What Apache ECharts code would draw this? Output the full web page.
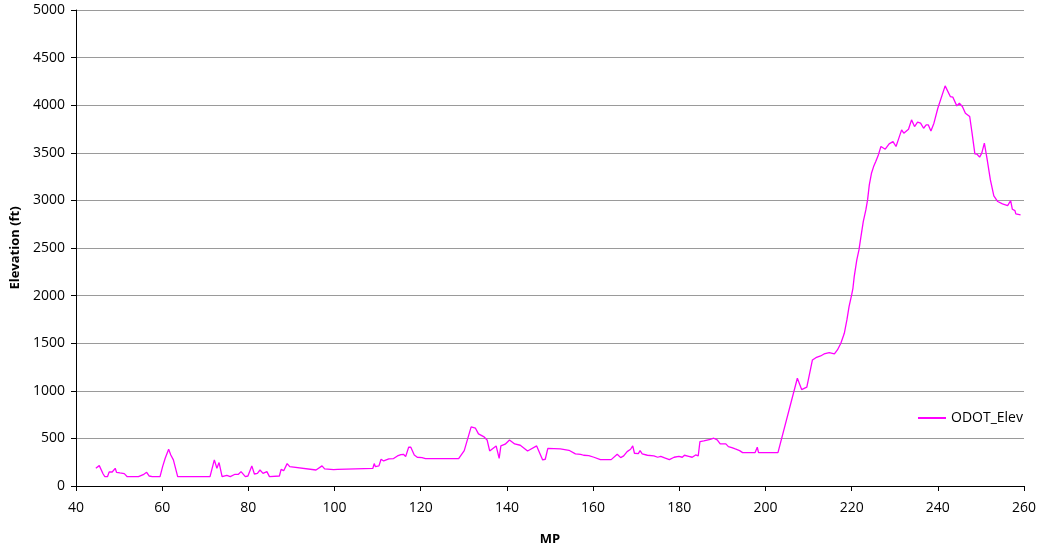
<!DOCTYPE html>
<html>
<head>
<meta charset="utf-8">
<script src="https://cdn.jsdelivr.net/npm/echarts@6/dist/echarts.min.js"></script>
<style>
html,body{margin:0;padding:0;background:#fff;}
#c{width:1042px;height:552px;}
</style>
</head>
<body>
<div id="c"></div>
<script>
var seriesName = 'ODOT_Elev';
var xTicks = [40, 60, 80, 100, 120, 140, 160, 180, 200, 220, 240, 260];
var yTicks = [0, 500, 1000, 1500, 2000, 2500, 3000, 3500, 4000, 4500, 5000];
var mp = [44.6,45.4,45.8,46.3,46.7,47.3,47.7,48.4,48.8,49.1,49.4,50.2,51.2,51.9,54.5,55.6,56.4,57.0,57.4,57.7,
59.5,60.1,60.7,61.1,61.5,62.0,62.6,63.6,71.1,72.1,72.7,73.2,73.9,75.0,75.8,76.9,77.7,78.3,79.3,79.9,
80.8,81.4,82.1,82.7,83.4,84.3,84.9,87.2,87.6,88.2,89.0,89.6,95.7,97.1,97.7,99.8,100.2,100.7,108.9,109.2,
109.5,110.3,110.8,111.4,112.6,113.7,114.6,115.4,116.0,116.5,117.2,117.7,118.5,119.2,120.3,121.1,128.8,130.1,131.7,132.7,
133.4,134.6,135.4,136.0,137.5,138.2,138.6,139.6,140.6,141.8,143.1,144.8,146.9,148.3,148.9,149.5,152.4,154.4,155.9,157.1,
157.8,159.0,160.2,161.7,164.2,165.6,166.4,167.1,167.9,168.7,169.2,169.6,170.5,170.9,171.4,172.6,174.1,174.5,175.0,175.7,
176.6,177.7,178.8,179.9,180.7,181.2,182.2,183.0,183.8,184.2,184.4,184.8,185.7,187.2,188.0,188.8,189.5,190.1,190.8,191.0,
191.4,192.2,193.0,193.4,194.0,194.7,197.6,198.1,198.4,202.9,207.4,208.4,209.6,210.9,211.7,212.8,213.6,214.8,216.0,216.7,
217.5,218.3,218.9,219.4,220.0,220.3,220.6,221.2,221.7,222.1,222.7,223.3,223.7,224.1,224.6,225.1,225.6,226.2,226.8,227.8,
228.7,229.6,230.3,230.9,231.6,232.1,233.2,233.9,234.6,235.3,236.0,236.3,236.7,237.3,237.8,238.4,239.1,240.0,240.4,241.7,
242.1,242.9,243.5,244.4,245.0,245.7,246.4,247.4,247.9,248.6,249.1,249.7,250.2,250.8,251.4,252.2,253.0,253.9,255.0,256.2,
256.9,257.3,257.9,258.1,259.2];
var elev = [186,214,203,126,98,98,147,147,137,186,144,137,130,98,98,119,144,105,119,98,
98,203,291,302,386,326,274,98,98,274,186,246,98,112,98,123,123,151,98,105,
211,126,133,168,133,151,98,105,175,161,235,203,168,211,180,172,186,175,186,235,
203,211,281,263,284,288,316,330,333,309,407,407,326,302,298,288,288,372,621,607,
547,519,484,368,421,291,421,439,484,442,428,368,421,274,281,396,389,375,337,333,
323,319,302,277,277,333,298,316,361,386,421,344,340,372,337,323,316,337,302,312,
295,277,302,312,302,323,312,302,326,337,316,467,474,491,502,484,442,442,442,463,
414,404,389,396,372,351,351,407,351,350,1132,1013,1038,1324,1348,1366,1387,1401,1387,1429,
1499,1604,1744,1884,2007,2077,2200,2375,2480,2602,2778,2900,3005,3163,3285,3355,3408,3478,3566,3538,
3594,3618,3566,3646,3741,3706,3748,3846,3776,3821,3811,3828,3758,3793,3793,3730,3811,3968,3986,4203,
4189,4091,4084,3993,4021,3986,3916,3881,3723,3489,3485,3454,3496,3601,3443,3215,3047,2988,2963,2946,
2998,2907,2893,2858,2848];

var pts = mp.map(function(x, i){ return [x, elev[i]]; });
var chart = echarts.init(document.getElementById('c'), null, {renderer:'canvas'});
var font = 'Open Sans';
chart.setOption({
  animation: false,
  backgroundColor: '#fff',
  grid: {left: 76, right: 18, top: 10, bottom: 66, containLabel: false, outerBoundsMode: 'none'},
  legend: {
    data: [{name: seriesName, icon: 'rect'}],
    left: 918, top: 411, padding: 0,
    itemWidth: 28, itemHeight: 2, itemGap: 4,
    textStyle: {fontFamily: font, fontSize: 14, color: '#000'}
  },
  xAxis: {
    type: 'value', min: xTicks[0], max: xTicks[xTicks.length-1], interval: 20,
    name: 'MP', nameLocation: 'middle', nameGap: 47,
    nameTextStyle: {fontFamily: font, fontSize: 13, fontWeight: 'bold', color: '#000'},
    axisLine: {show: true, onZero: false, lineStyle: {color: '#000', width: 1}},
    axisTick: {show: true, inside: false, length: 5, lineStyle: {color: '#000'}},
    axisLabel: {fontFamily: font, fontSize: 14, color: '#000', margin: 15,
      formatter: function(v){ return String(v); }},
    splitLine: {show: false}
  },
  yAxis: {
    type: 'value', min: yTicks[0], max: yTicks[yTicks.length-1], interval: 500,
    name: 'Elevation (ft)', nameLocation: 'middle', nameGap: 54,
    nameTextStyle: {fontFamily: font, fontSize: 13, fontWeight: 'bold', color: '#000'},
    axisLine: {show: true, lineStyle: {color: '#000', width: 1}},
    axisTick: {show: true, inside: false, length: 5, lineStyle: {color: '#000'}},
    axisLabel: {fontFamily: font, fontSize: 14, color: '#000', margin: 11,
      formatter: function(v){ return String(v); }},
    splitLine: {show: true, lineStyle: {color: '#9a9a9a', width: 1}}
  },
  series: [{
    name: seriesName, type: 'line', data: pts,
    showSymbol: false, symbol: 'none',
    lineStyle: {color: '#ff00ff', width: 1.3},
    itemStyle: {color: '#ff00ff'}
  }]
});
</script>
</body>
</html>
